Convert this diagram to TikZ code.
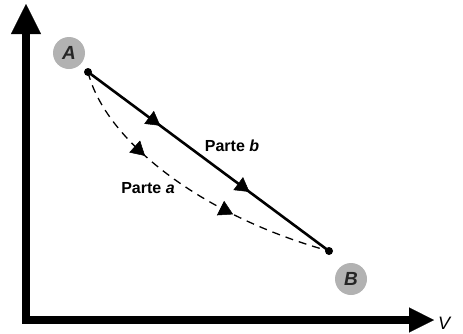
\documentclass[tikz,border=0pt]{standalone}
\usepackage{fontspec}
\setmainfont{Liberation Sans}
\usetikzlibrary{arrows.meta,decorations.markings}
\tikzset{
  axis/.style={line width=8pt, line join=miter},
  pathline/.style={line width=2.6pt},
  dashline/.style={line width=1.3pt, dash pattern=on 8pt off 6pt},
  ptdot/.style={circle, fill=black, inner sep=0pt, minimum size=8pt},
  ptlabel/.style={circle, fill=black!30, minimum size=32pt, inner sep=0pt,
    font=\fontsize{19}{19}\selectfont\bfseries\itshape, text=black!85},
  partlabel/.style={font=\fontsize{16}{16}\selectfont\bfseries},
  midtip/.tip={Triangle[length=14pt,width=16pt,line width=0.5pt]},
}
\begin{document}
\begin{tikzpicture}[x=1pt,y=-1pt]
\useasboundingbox (0,0) rectangle (463,333);
% axes
\coordinate (O) at (26,320);
\coordinate (Ytip) at (26,4);
\coordinate (Xtip) at (434,320);
\draw[axis, {Triangle[length=30pt,width=30pt,line width=0.1pt]}-{Triangle[length=25pt,width=25pt,line width=0.1pt]}] (Ytip) -- (O) -- (Xtip);
\node[anchor=west, inner sep=1pt, font=\fontsize{18}{18}\selectfont\itshape] (V) at (437,323) {V};
% points
\node[ptdot] (A) at (88,72) {};
\node[ptdot] (B) at (329,251) {};
\node[ptlabel] (LA) at (69,53) {A};
\node[ptlabel] (LB) at (351,279) {B};
% part b (solid)
\draw[pathline, postaction={decorate, decoration={markings,
   mark=at position 0.30 with {\arrow{midtip}},
   mark=at position 0.67 with {\arrow{midtip}}}}] (A.center) -- (B.center);
% part a (dashed)
\draw[dashline, postaction={decorate, decoration={markings,
   mark=at position 0.33 with {\arrow{midtip}},
   mark=at position 0.67 with {\arrow{midtip}}}}]
   (A.center) .. controls (105,140) and (200,215) .. (B.center);
\node[partlabel] (Pb) at (232,146) {Parte \textit{b}};
\node[partlabel] (Pa) at (148,188) {Parte \textit{a}};
\end{tikzpicture}
\end{document}
